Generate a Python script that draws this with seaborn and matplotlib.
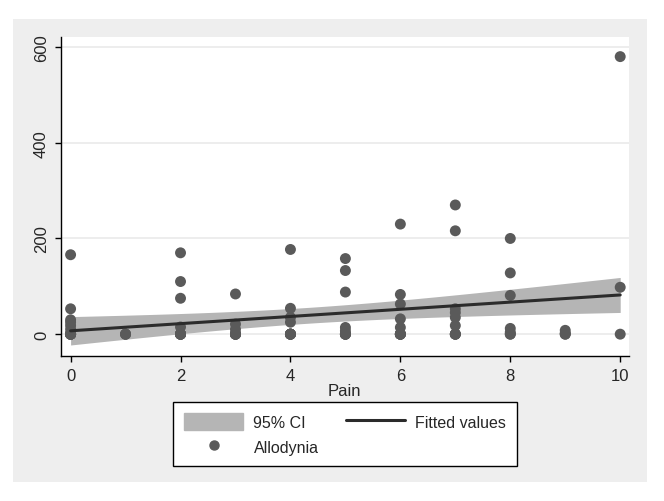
import numpy as np
import pandas as pd
import matplotlib.pyplot as plt
import matplotlib.patches as mpatches
from matplotlib.lines import Line2D
import seaborn as sns

sns.set_style("white")
plt.rcParams["font.family"] = ["Liberation Sans", "DejaVu Sans"]

# allodynia values, grouped by pain score
# (many zeros sit on top of each other, so their count is estimated)
pain_levels = [0, 1, 2, 3, 4, 5, 6, 7, 8, 9, 10]
allodynia_by_pain = [
    [166, 53, 30, 25, 18, 10] + [0] * 9,
    [0] * 3,
    [170, 110, 75, 15] + [0] * 7,
    [84, 21, 10] + [0] * 6,
    [177, 54, 35, 25] + [0] * 6,
    [158, 133, 88, 14, 7] + [0] * 5,
    [230, 83, 63, 32, 14] + [0] * 6,
    [270, 216, 53, 45, 35, 18] + [0] * 4,
    [200, 128, 81, 12, 4] + [0] * 2,
    [8, 2] + [0] * 2,
    [580, 98, 0],
]
y_ticks = [0, 200, 400, 600]
x_ticks = [0, 2, 4, 6, 8, 10]

pain = [p for p, vals in zip(pain_levels, allodynia_by_pain) for _ in vals]
allo = [v for vals in allodynia_by_pain for v in vals]
df = pd.DataFrame({"Pain": pain, "Allodynia": allo})

# linear fit with 95% confidence interval of the mean
x = df["Pain"].to_numpy(float)
y = df["Allodynia"].to_numpy(float)
n = len(x)
b1, b0 = np.polyfit(x, y, 1)
resid = y - (b0 + b1 * x)
s = np.sqrt((resid ** 2).sum() / (n - 2))
xg = np.linspace(0, 10, 100)
se = s * np.sqrt(1 / n + (xg - x.mean()) ** 2 / ((x - x.mean()) ** 2).sum())
t = 1.986
fit = b0 + b1 * xg

bg = "#eeeeee"
fig = plt.figure(figsize=(6.64, 5.02), dpi=100, facecolor="white")
fig.patches.append(mpatches.Rectangle((13 / 664, 1 - 483 / 502), 634 / 664, 463 / 502,
                                      transform=fig.transFigure, facecolor=bg,
                                      edgecolor="none", zorder=-10))
ax = fig.add_axes([60.7 / 664, 1 - 356.7 / 502, (629 - 60.7) / 664, (356.7 - 38) / 502])
ax.set_facecolor("white")

for yt in y_ticks:
    ax.axhline(yt, color="#eaeaea", lw=1.2, zorder=0)

ax.fill_between(xg, fit - t * se, fit + t * se, color="#b5b5b5", lw=0, zorder=1)
sns.scatterplot(data=df, x="Pain", y="Allodynia", ax=ax, color="#5a5a5a",
                s=62, edgecolor="none", zorder=2, legend=False)
ax.plot(xg, fit, color="#2b2b2b", lw=2.2, zorder=3)

ax.set_xlim(-0.18, 10.16)
ax.set_ylim(-45, 621)
ax.set_xticks(x_ticks)
ax.set_yticks(y_ticks)
ax.set_yticklabels([str(v) for v in y_ticks], rotation=90, va="center")
ax.tick_params(axis="both", length=4.5, width=1, color="black", labelsize=12,
               direction="out", left=True, bottom=True, pad=4)
for side in ["top", "right"]:
    ax.spines[side].set_visible(False)
for side in ["left", "bottom"]:
    ax.spines[side].set_color("black")
    ax.spines[side].set_linewidth(1)
ax.set_xlabel("Pain", fontsize=12, labelpad=0)
ax.set_ylabel("")

handles = [
    mpatches.Patch(color="#b5b5b5", label="95% CI"),
    Line2D([], [], marker="o", ls="none", color="#5a5a5a", markersize=6.5, label="Allodynia"),
    Line2D([], [], color="#2b2b2b", lw=2.2, label="Fitted values"),
]
leg = fig.legend(handles=handles, ncol=2, loc="upper center",
                 bbox_to_anchor=(345 / 664, 1 - 403 / 502), frameon=True,
                 fancybox=False, edgecolor="black", fontsize=11.5, framealpha=1,
                 handlelength=3.7, handleheight=1.25, handletextpad=0.65,
                 columnspacing=1.7, borderpad=0.7, labelspacing=0.5,
                 borderaxespad=0)
leg.get_frame().set_linewidth(1)

fig.savefig("out.png", dpi=100, facecolor="white")
